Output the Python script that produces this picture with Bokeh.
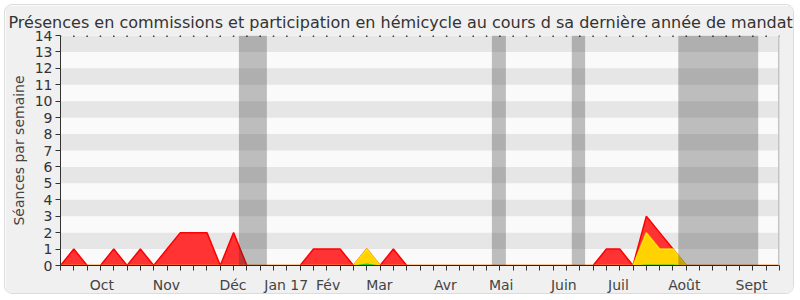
from bokeh.plotting import figure
from bokeh.models import FixedTicker, Span
from bokeh.embed import file_html
from bokeh.resources import INLINE

# Weekly attendance counts, one value per week of the last year of the mandate
weeks = list(range(55))
commissions = [0, 1, 0, 0, 1, 0, 1, 0, 1, 2, 2, 2, 0, 2, 0, 0, 0, 0, 0, 1,
               1, 1, 0, 1, 0, 1, 0, 0, 0, 0, 0, 0, 0, 0, 0, 0, 0, 0, 0, 0,
               0, 1, 1, 0, 3, 2, 1, 0, 0, 0, 0, 0, 0, 0, 0]
hemicycle = [0] * 23 + [1] + [0] * 20 + [2, 1, 1] + [0] * 8
questions = [0] * 23 + [0.12] + [0] * 20 + [0.06, 0.06, 0.06] + [0] * 8

# Month labels along the week axis
month_pos = [3.1, 7.95, 12.95, 16.95, 20.1, 23.95, 28.9, 33.1, 37.8, 41.9, 46.85, 51.9]
month_names = ["Oct", "Nov", "Déc", "Jan 17", "Fév", "Mar", "Avr", "Mai",
               "Juin", "Juil", "Août", "Sept"]

# Parliamentary recess periods (in weeks)
recess_start = [13.4, 32.4, 38.4, 46.4]
recess_end = [15.5, 33.45, 39.4, 52.4]

y_ticks = list(range(15))
stripe_bottoms = [1, 3, 5, 7, 9, 11, 13]

FONT = "DejaVu Sans"

p = figure(width=790, height=290, output_backend="svg", toolbar_location=None,
           x_range=(0, 54), y_range=(0, 14),
           min_border_left=55, min_border_right=16, min_border_top=30,
           min_border_bottom=30,
           title="Présences en commissions et participation en hémicycle au cours d sa dernière année de mandat")
p.styles = {"margin-left": "4px", "margin-top": "4px", "border": "1px solid #DCDCDC",
            "border-radius": "8px", "overflow": "hidden"}

p.border_fill_color = "#F0F0F0"
p.background_fill_color = "#FAFAFA"
p.outline_line_color = None
p.grid.visible = False

p.title.text_font = FONT
p.title.text_font_size = "16px"
p.title.text_font_style = "normal"
p.title.text_color = "#333333"
p.title.align = "left"
p.title.vertical_align = "middle"
p.title.offset = -52
p.title.standoff = 5

# Alternating horizontal stripes
p.quad(left=0, right=54, bottom=stripe_bottoms, top=[b + 1 for b in stripe_bottoms],
       fill_color="#E6E6E6", line_color=None)

# Areas drawn on top of each other
p.varea(x=weeks, y1=0, y2=commissions, fill_color="#FF3333")
p.line(weeks, commissions, line_color="#FF0000", line_width=1.5)
p.varea(x=weeks, y1=0, y2=hemicycle, fill_color="#FFD200")
p.line(weeks, hemicycle, line_color="#FFFF00", line_width=1.5, line_alpha=0.7)
p.varea(x=weeks, y1=0, y2=questions, fill_color="#22CC22")

# Recess bands over the data
p.quad(left=recess_start, right=recess_end, bottom=0, top=14,
       fill_color="#323232", fill_alpha=0.3, line_color=None)

# Small dots marking the weeks along the top edge
p.scatter(x=weeks, y=[13.97] * len(weeks), marker="square", size=1.5,
          color="black", line_color=None)

p.add_layout(Span(location=54, dimension="height", line_color="#C4C4C4", line_width=3))

# Axes
p.yaxis.ticker = FixedTicker(ticks=y_ticks)
p.yaxis.axis_label = "Séances par semaine"
p.yaxis.axis_label_text_font = FONT
p.yaxis.axis_label_text_font_size = "14px"
p.yaxis.axis_label_text_font_style = "normal"
p.yaxis.axis_label_text_color = "#444444"
p.yaxis.axis_label_standoff = 5
p.yaxis.major_label_text_font = FONT
p.yaxis.major_label_text_font_size = "14px"
p.yaxis.major_label_text_color = "#333333"
p.yaxis.major_tick_out = 5
p.yaxis.major_tick_in = 0
p.yaxis.minor_tick_line_color = None
p.yaxis.axis_line_color = "#333333"
p.yaxis.major_tick_line_color = "#333333"
p.yaxis.major_label_standoff = 3

p.xaxis.ticker = FixedTicker(ticks=month_pos, minor_ticks=weeks)
p.xaxis.major_label_overrides = {pos: name for pos, name in zip(month_pos, month_names)}
p.xaxis.major_label_text_font = FONT
p.xaxis.major_label_text_font_size = "14px"
p.xaxis.major_label_text_color = "#444444"
p.xaxis.major_tick_out = 0
p.xaxis.major_tick_in = 0
p.xaxis.minor_tick_out = 5
p.xaxis.minor_tick_in = 0
p.xaxis.minor_tick_line_color = "#333333"
p.xaxis.axis_line_color = "#551111"
p.xaxis.major_label_standoff = 6

open("out.html", "w").write(file_html(p, INLINE))
